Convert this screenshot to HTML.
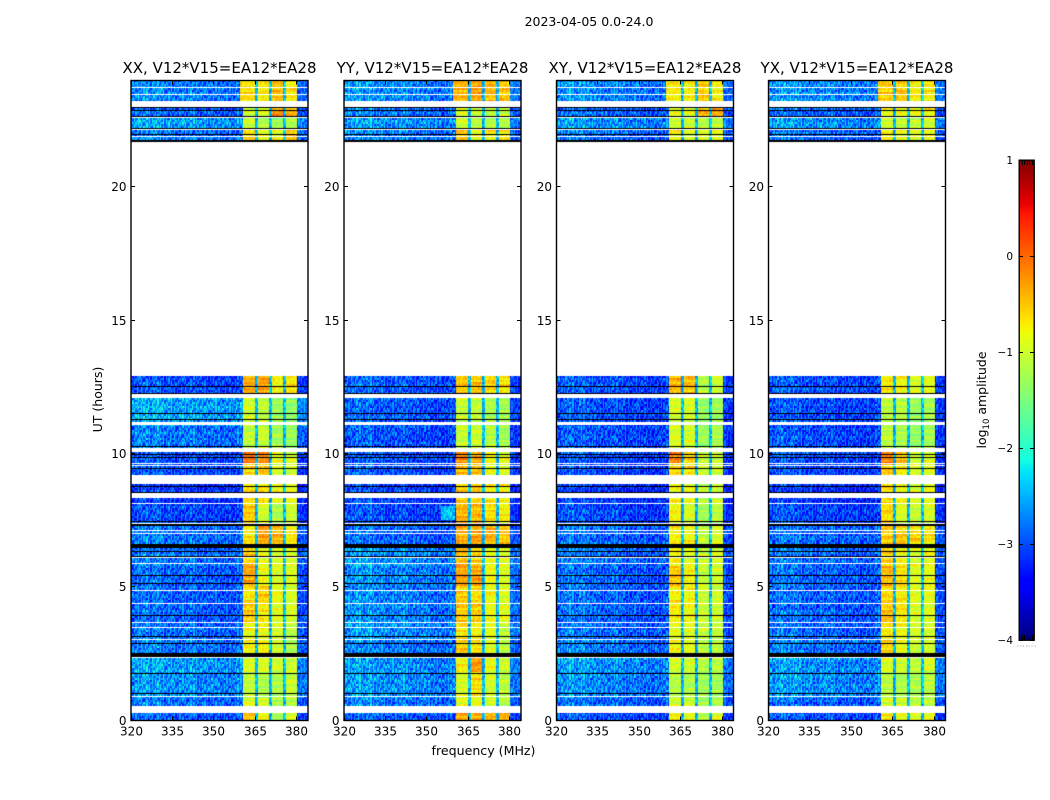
<!DOCTYPE html>
<html lang="en">
<head>
<meta charset="utf-8">
<title>2023-04-05 spectrogram</title>
<style>
html,body{margin:0;padding:0;background:#fff;}
#figure{position:relative;width:1050px;height:800px;overflow:hidden;background:#fff;font-family:"DejaVu Sans","Liberation Sans",sans-serif;}
canvas{position:absolute;display:block;}
svg{position:absolute;left:0;top:0;}
svg text{fill:#000;font-family:"DejaVu Sans","Liberation Sans",sans-serif;}
</style>
</head>
<body>
<div id="figure">
<svg id="overlay" width="1050" height="800">
<text x="589" y="26" font-size="12.5" text-anchor="middle">2023-04-05 0.0-24.0</text>
<text x="483.5" y="755" font-size="12.6" text-anchor="middle">frequency (MHz)</text>
<text transform="translate(102,399.5) rotate(-90)" font-size="12.5" text-anchor="middle">UT (hours)</text>
<text transform="translate(986,400) rotate(-90)" font-size="12.5" text-anchor="middle">log<tspan font-size="8.5" dy="3">10</tspan><tspan dy="-3"> amplitude</tspan></text>
</svg>
</div>
<script>
// ---- Chart data (log10 amplitude) ----
const polarizations = ["XX", "YY", "XY", "YX"];
const titleSuffix = ", V12*V15=EA12*EA28";
const freqTicks = [320, 335, 350, 365, 380];
const utTicks = [0, 5, 10, 15, 20];
const colorbarTicks = [1, 0, -1, -2, -3, -4];

// upper hour edge of each time section (section 18 is the empty daytime block)
const sectionTops = [0.27,0.86,1.77,2.4,3.0,3.6,4.5,5.0,5.8,6.45,7.3,8.1,8.85,9.6,10.04,11.06,12.09,12.9,21.7,22.17,22.65,23.0,24];

const lowXX = [-3.0,-2.9,-2.72,-2.65,-2.85,-2.9,-2.95,-2.95,-2.95,-2.87,-2.87,-3.1,-3.2,-3.05,-3.05,-2.85,-2.62,-3.05,null,-2.85,-2.65,-2.95,-2.8];
const aXX   = [-0.5,-0.95,-1.1,-0.95,-0.75,-0.85,-0.55,-0.7,-0.35,-0.55,-0.7,-0.55,-0.65,-0.6,-0.05,-1.1,-1.0,-0.35,null,-0.6,-1.05,-1.0,-0.65];
const bXX   = [-0.85,-1.0,-1.2,-0.95,-0.75,-0.85,-0.7,-0.55,-0.85,-0.85,-0.3,-1.0,-0.6,-0.5,-0.2,-1.05,-1.1,-0.3,null,-0.9,-1.2,-0.9,-0.7];
const cXX   = [-1.3,-1.15,-1.2,-1.0,-0.95,-0.95,-0.9,-0.85,-0.9,-0.95,-0.45,-1.2,-0.85,-1.0,-0.85,-1.25,-1.3,-0.75,null,-0.85,-1.3,-0.2,-0.5];
const dXX   = [-0.85,-1.15,-1.05,-1.0,-1.15,-1.15,-0.95,-0.95,-0.9,-0.95,-0.7,-1.0,-0.9,-1.0,-0.95,-1.3,-1.4,-0.65,null,-0.45,-1.15,-0.4,-0.7];

const lowYY = [-3.0,-2.85,-2.72,-2.72,-2.85,-2.72,-2.78,-2.82,-2.78,-2.72,-2.95,-3.1,-3.15,-3.05,-3.05,-3.05,-3.0,-3.0,null,-2.85,-2.7,-2.85,-2.75];
const aYY   = [-0.35,-0.85,-0.95,-0.75,-0.55,-0.65,-0.5,-0.55,-0.3,-0.4,-0.35,-0.4,-0.55,-0.45,-0.15,-1.05,-1.05,-0.5,null,-0.55,-1.0,-0.9,-0.4];
const bYY   = [-0.35,-0.85,-0.65,-0.3,-0.65,-0.75,-0.55,-0.65,-0.3,-0.55,-0.3,-0.45,-0.5,-0.5,-0.35,-1.0,-1.05,-0.5,null,-0.85,-1.1,-1.0,-0.3];
const cYY   = [-0.4,-1.0,-1.0,-0.85,-0.9,-0.9,-0.85,-0.8,-0.8,-0.85,-0.4,-0.65,-0.7,-0.9,-0.75,-1.15,-1.2,-0.6,null,-0.7,-1.15,-1.1,-0.45];
const dYY   = [-0.4,-1.1,-1.1,-1.0,-1.1,-1.1,-0.9,-0.95,-0.9,-0.95,-0.5,-0.75,-0.8,-0.95,-0.9,-1.25,-1.25,-0.65,null,-0.7,-1.15,-1.05,-0.5];

const lowXY = [-3.05,-2.95,-2.78,-2.72,-2.87,-2.92,-2.95,-2.95,-2.95,-2.87,-2.95,-3.1,-3.2,-3.1,-3.1,-3.05,-3.05,-3.05,null,-2.9,-2.7,-2.95,-2.8];
const aXY   = [-0.75,-1.0,-1.15,-1.0,-0.8,-0.9,-0.7,-0.75,-0.5,-0.7,-0.75,-0.8,-0.75,-0.55,-0.2,-0.95,-0.95,-0.45,null,-0.8,-1.0,-0.85,-0.75];
const bXY   = [-0.9,-1.05,-1.2,-1.0,-0.9,-0.9,-0.8,-0.8,-0.75,-0.85,-0.8,-0.95,-0.8,-0.7,-0.6,-0.95,-0.95,-0.5,null,-0.95,-1.05,-0.85,-0.75];
const cXY   = [-1.2,-1.25,-1.3,-1.15,-1.1,-1.1,-1.05,-1.0,-1.05,-1.05,-1.1,-1.25,-1.1,-1.05,-1.05,-1.3,-1.35,-1.15,null,-0.9,-1.15,-0.4,-0.55];
const dXY   = [-0.9,-1.2,-1.25,-1.1,-1.1,-1.1,-1.0,-1.0,-1.0,-1.0,-0.95,-1.1,-1.0,-1.0,-1.0,-1.2,-1.3,-1.0,null,-0.85,-1.1,-0.35,-0.75];

const lowYX = [-3.05,-2.95,-2.72,-2.72,-2.87,-2.92,-2.95,-2.95,-2.95,-2.87,-2.92,-3.1,-3.2,-3.1,-3.05,-3.05,-3.05,-3.05,null,-2.9,-2.7,-2.95,-2.75];
const aYX   = [-0.75,-0.95,-1.15,-0.95,-0.6,-0.7,-0.5,-0.65,-0.45,-0.55,-0.55,-0.6,-0.6,-0.5,-0.15,-1.1,-1.1,-0.7,null,-0.7,-1.0,-0.85,-0.55];
const bYX   = [-0.85,-1.05,-1.2,-1.0,-0.85,-0.85,-0.7,-0.7,-0.65,-0.75,-0.55,-0.95,-0.75,-0.7,-0.5,-1.2,-1.15,-0.8,null,-0.85,-1.05,-0.85,-0.55];
const cYX   = [-0.95,-1.15,-1.2,-1.1,-1.05,-1.0,-0.95,-0.9,-0.95,-0.95,-0.6,-1.05,-0.95,-0.95,-1.0,-1.35,-1.35,-0.95,null,-0.85,-1.1,-0.8,-0.7];
const dYX   = [-0.85,-1.1,-1.1,-0.95,-0.95,-0.95,-0.9,-0.85,-0.85,-0.85,-0.7,-0.95,-0.9,-0.9,-0.9,-1.25,-1.25,-0.85,null,-0.75,-1.0,-0.75,-0.7];

const lowLevels = [lowXX, lowYY, lowXY, lowYX];
const bandALevels = [aXX, aYY, aXY, aYX];
const bandBLevels = [bXX, bYY, bXY, bYX];
const bandCLevels = [cXX, cYY, cXY, cYX];
const bandDLevels = [dXX, dYY, dXY, dYX];

// log-amplitude offset per 2 MHz across 320-360 MHz
const channelStripes = [0.05,0.15,0.2,0.1,0.2,0.12,0.05,0.08,0.0,0.05,0.1,0.05,0.0,-0.02,0.03,-0.03,-0.05,-0.08,-0.05,0.02];
// log-amplitude offset per time row for horizontal streaks (cycled)
const rowStreaks = [0.05,-0.1,0.12,0.2,-0.05,0.0,-0.15,0.08,0.25,-0.08,0.02,-0.12,0.15,-0.2,0.06,0.1,-0.04,0.22,-0.16,0.0,0.12,-0.06,0.04,-0.22,0.18,0.03,-0.1,0.09,-0.02,0.16,-0.14,0.07,0.28,-0.18,0.01,-0.05,0.13];
// speckle tile (digits, 4 = no offset)
const speckle = [
 "30472915638402751946382071594826",
 "52814063927150386472910385264703",
 "17395204681739025846173958204619",
 "64028175392640817359204716385924",
 "28506139472805163947261083574192",
 "93147026583914702658391470265830",
 "40681953274068195327406819532746",
 "75293618041752936180427593618024"
];

// narrow interference channels: panel index, MHz, log amplitude
const rfiPanel = [1, 1];
const rfiMHz = [340, 352];
const rfiLevel = [-1.5, -1.6];
// bright patches: panel index, hour range, MHz range, log amplitude
const patchPanel = [1];
const patchHourLo = [7.5];
const patchHourHi = [8.05];
const patchMHzLo = [355];
const patchMHzHi = [360];
const patchLevel = [-2.4];

// hours of flagged rows, with their drawn thickness in pixels
const blackRows = [1.01,1.77,2.52,2.88,3.15,3.93,5.13,5.43,6.16,6.34,6.6,7.34,7.45,8.56,8.78,9.44,9.85,9.98,10.27,11.28,11.5,12.27,12.53,21.75,21.96,22.21,22.65,22.87,22.98];
const blackWidths = [1,1,4,1,1,1,1,1,1,1,4,2,1,1,1,1,1,1,1,1,1,1,1,2,1,1,1,1,1];
const whiteRows = [2.35,3.03,3.49,3.66,4.38,4.88,5.9,6.1,7.0,7.13,7.4,8.13,9.56,9.65,21.9,22.17,22.61,23.46,23.75];
const gapStarts = [0.27,0.86,8.33,8.85,10.04,11.06,12.09,12.9,23.0];
const gapEnds = [0.54,0.91,8.55,9.19,10.21,11.19,12.24,21.7,23.22];

// ---- Layout and axis functions ----
const panelLefts = [131, 344, 556.5, 768.5];
const panelWidth = 177;
const plotTop = 80;
const plotHeight = 640;
const freqMin = 320, freqMax = 384, utMax = 24, cMin = -4, cMax = 1;
const cbLeft = 1019, cbWidth = 15, cbTop = 160, cbHeight = 480;

function xScale(left, mhz) { return left + (mhz - freqMin) / (freqMax - freqMin) * panelWidth; }
function yScale(hour) { return plotTop + plotHeight - hour / utMax * plotHeight; }
function cbScale(v) { return cbTop + (cMax - v) / (cMax - cMin) * cbHeight; }

function ramp(t, pts) {
  for (let i = 1; i < pts.length; i++) {
    if (t <= pts[i][0]) {
      const a = pts[i - 1], b = pts[i];
      return a[1] + (b[1] - a[1]) * (t - a[0]) / (b[0] - a[0]);
    }
  }
  return pts[pts.length - 1][1];
}
function jet(v) {
  const t = Math.max(0, Math.min(1, (v - cMin) / (cMax - cMin)));
  const r = ramp(t, [[0,0],[0.35,0],[0.66,1],[0.89,1],[1,0.5]]);
  const g = ramp(t, [[0,0],[0.125,0],[0.375,1],[0.64,1],[0.91,0],[1,0]]);
  const b = ramp(t, [[0,0.5],[0.11,1],[0.34,1],[0.65,0],[1,0]]);
  return "rgb(" + Math.round(r * 255) + "," + Math.round(g * 255) + "," + Math.round(b * 255) + ")";
}
function sectionOf(hour) {
  for (let i = 0; i < sectionTops.length; i++) if (hour < sectionTops[i]) return i;
  return sectionTops.length - 1;
}
function patchAt(p, hour, mhz) {
  for (let i = 0; i < patchPanel.length; i++) {
    if (patchPanel[i] === p && hour >= patchHourLo[i] && hour < patchHourHi[i] && mhz >= patchMHzLo[i] && mhz < patchMHzHi[i]) return patchLevel[i];
  }
  return null;
}
function rfiAt(p, mhz) {
  for (let i = 0; i < rfiPanel.length; i++) {
    if (rfiPanel[i] === p && Math.abs(mhz - rfiMHz[i]) < 0.25) return rfiLevel[i];
  }
  return null;
}
function cellValue(p, s, mhz, hour, row, chan) {
  const tile = speckle[(row + p * 3) % speckle.length];
  const sp = (Number(tile[(chan + row * 5 + p * 9) % tile.length]) - 4.5) * 0.11;
  const streak = rowStreaks[(row + p * 5) % rowStreaks.length];
  const start = s === 22 ? 359.5 : 360.5;
  if (mhz < start) {
    const rfi = rfiAt(p, mhz);
    if (rfi !== null) return rfi + sp * 0.3;
    const patch = patchAt(p, hour, mhz);
    if (patch !== null) return patch + sp * 0.6;
    const st = channelStripes[Math.min(channelStripes.length - 1, Math.floor((mhz - 320) / 2))];
    return lowLevels[p][s] + st + sp + streak * 0.4;
  }
  if (mhz >= 380) return lowLevels[p][s] - 0.05 + sp * 0.8;
  if ((mhz > 365 && mhz < 366) || (mhz > 370 && mhz < 371) || (mhz > 375 && mhz < 376)) return -2.45 + sp * 0.6;
  let arr = bandDLevels, phase = 21;
  if (mhz < 365) { arr = bandALevels; phase = 0; }
  else if (mhz < 370) { arr = bandBLevels; phase = 7; }
  else if (mhz < 375) { arr = bandCLevels; phase = 14; }
  const bandStreak = rowStreaks[(row + p * 5 + phase) % rowStreaks.length];
  return arr[p][s] + sp * 0.35 + bandStreak * 0.8;
}

// ---- Drawing ----
const figure = document.getElementById("figure");
const overlay = document.getElementById("overlay");
const NS = "http://www.w3.org/2000/svg";

function drawHeatmap(p) {
  const left = Math.round(panelLefts[p]);
  const canvas = document.createElement("canvas");
  
  
  canvas.width = panelWidth;
  canvas.height = plotHeight;
  canvas.style.left = left + "px";
  canvas.style.top = plotTop + "px";
  figure.insertBefore(canvas, overlay);
  const ctx = canvas.getContext("2d");
  const rowHours = 0.075, chanMHz = 0.5;
  const nRows = Math.round(utMax / rowHours), nChans = Math.round((freqMax - freqMin) / chanMHz);
  for (let r = 0; r < nRows; r++) {
    const hLo = r * rowHours, hHi = hLo + rowHours;
    const hMid = hLo + rowHours / 2;
    const s = sectionOf(hMid);
    if (lowLevels[p][s] === null) continue;
    const y0 = Math.round(yScale(hHi) - plotTop), y1 = Math.round(yScale(hLo) - plotTop);
    for (let c = 0; c < nChans; c++) {
      const f0 = freqMin + c * chanMHz;
      const x0 = Math.round(xScale(0, f0)), x1 = Math.round(xScale(0, f0 + chanMHz));
      ctx.fillStyle = jet(cellValue(p, s, f0 + chanMHz / 2, hMid, r, c));
      ctx.fillRect(x0, y0, x1 - x0, y1 - y0);
    }
  }
  ctx.fillStyle = "#fff";
  gapStarts.forEach(function (start, i) {
    const y0 = Math.round(yScale(gapEnds[i]) - plotTop), y1 = Math.round(yScale(start) - plotTop);
    ctx.fillRect(0, y0, panelWidth, y1 - y0);
  });
  whiteRows.forEach(function (h) {
    ctx.fillRect(0, Math.round(yScale(h) - plotTop), panelWidth, 1);
  });
  ctx.fillStyle = "#000";
  blackRows.forEach(function (h, i) {
    ctx.fillRect(0, Math.round(yScale(h) - plotTop), panelWidth, blackWidths[i]);
  });
}

function addLine(parent, x1, y1, x2, y2, stroke) {
  const l = document.createElementNS(NS, "line");
  l.setAttribute("x1", x1); l.setAttribute("y1", y1);
  l.setAttribute("x2", x2); l.setAttribute("y2", y2);
  l.setAttribute("stroke", stroke || "#000");
  l.setAttribute("stroke-width", "1");
  l.setAttribute("shape-rendering", "crispEdges");
  parent.appendChild(l);
  return l;
}

function drawAxes(p) {
  const left = panelLefts[p];
  const right = left + panelWidth;
  const top = plotTop + 0.5, bottom = plotTop + plotHeight + 0.5;
  const pol = polarizations[p].toLowerCase();
  const g = document.createElementNS(NS, "g");
  
  
  overlay.appendChild(g);

  const frame = document.createElementNS(NS, "rect");
  frame.setAttribute("x", left); frame.setAttribute("y", top);
  frame.setAttribute("width", panelWidth); frame.setAttribute("height", plotHeight);
  frame.setAttribute("fill", "none"); frame.setAttribute("stroke", "#000");
  frame.setAttribute("stroke-width", "1.4");
  
  
  g.appendChild(frame);

  const title = document.createElementNS(NS, "text");
  title.setAttribute("x", left + panelWidth / 2);
  title.setAttribute("y", 73);
  title.setAttribute("font-size", "15");
  title.setAttribute("text-anchor", "middle");
  title.textContent = polarizations[p] + titleSuffix;
  
  
  g.appendChild(title);

  freqTicks.forEach(function (f) {
    const x = Math.round(xScale(left, f) - 0.5) + 0.5;
    const t1 = addLine(g, x, bottom, x, bottom - 4);
    
    
    const t2 = addLine(g, x, top, x, top + 4);
    
    
    const lab = document.createElementNS(NS, "text");
    lab.setAttribute("x", x);
    lab.setAttribute("y", 735.5);
    lab.setAttribute("font-size", "12");
    lab.setAttribute("text-anchor", "middle");
    lab.textContent = f;
    
    
    g.appendChild(lab);
  });
  utTicks.forEach(function (h) {
    const y = Math.round(yScale(h) - 0.5) + 0.5;
    const t1 = addLine(g, left, y, left + 4, y);
    
    
    const t2 = addLine(g, right, y, right - 4, y);
    
    
    const lab = document.createElementNS(NS, "text");
    lab.setAttribute("x", left - 4.5);
    lab.setAttribute("y", y + 4.5);
    lab.setAttribute("font-size", "12");
    lab.setAttribute("text-anchor", "end");
    lab.textContent = h;
    
    
    g.appendChild(lab);
  });
}

function drawColorbar() {
  const canvas = document.createElement("canvas");
  
  
  canvas.width = cbWidth;
  canvas.height = cbHeight;
  canvas.style.left = cbLeft + "px";
  canvas.style.top = cbTop + "px";
  figure.insertBefore(canvas, overlay);
  const ctx = canvas.getContext("2d");
  for (let y = 0; y < cbHeight; y++) {
    ctx.fillStyle = jet(cMax - (y + 0.5) / cbHeight * (cMax - cMin));
    ctx.fillRect(0, y, cbWidth, 1);
  }
  const g = document.createElementNS(NS, "g");
  
  
  overlay.appendChild(g);
  const l = cbLeft + 0.2, r = cbLeft + cbWidth + 0.2;
  const frame = document.createElementNS(NS, "rect");
  frame.setAttribute("x", l); frame.setAttribute("y", cbTop + 0.2);
  frame.setAttribute("width", cbWidth); frame.setAttribute("height", cbHeight);
  frame.setAttribute("fill", "none"); frame.setAttribute("stroke", "#000");
  frame.setAttribute("stroke-width", "1.4");
  
  
  g.appendChild(frame);
  colorbarTicks.forEach(function (v) {
    const y = Math.round(cbScale(v)) + 0.5;
    const t1 = addLine(g, l, y, l + 4, y);
    
    
    const t2 = addLine(g, r, y, r - 4, y);
    
    
    const lab = document.createElementNS(NS, "text");
    lab.setAttribute("x", 1013);
    lab.setAttribute("y", y + 3.5);
    lab.setAttribute("font-size", "10.5");
    lab.setAttribute("text-anchor", "end");
    lab.textContent = v < 0 ? "\u2212" + Math.abs(v) : String(v);
    
    
    g.appendChild(lab);
  });
  for (let i = 1; i <= 5; i++) {
    const x = Math.round(l + i * cbWidth / 6) + 0.5;
    const a = addLine(g, x, cbTop, x, cbTop + 5);
    
    
    const b = addLine(g, x, cbTop + cbHeight, x, cbTop + cbHeight - 5);
    
    
  }
  for (let i = 0; i <= 6; i++) {
    const d = addLine(g, 1017.5 + i * 2.8, 646, 1018.5 + i * 2.8, 646, "#999");
    
    
  }
}

polarizations.forEach(function (_, p) {
  drawHeatmap(p);
  drawAxes(p);
});
drawColorbar();
</script>
</body>
</html>
